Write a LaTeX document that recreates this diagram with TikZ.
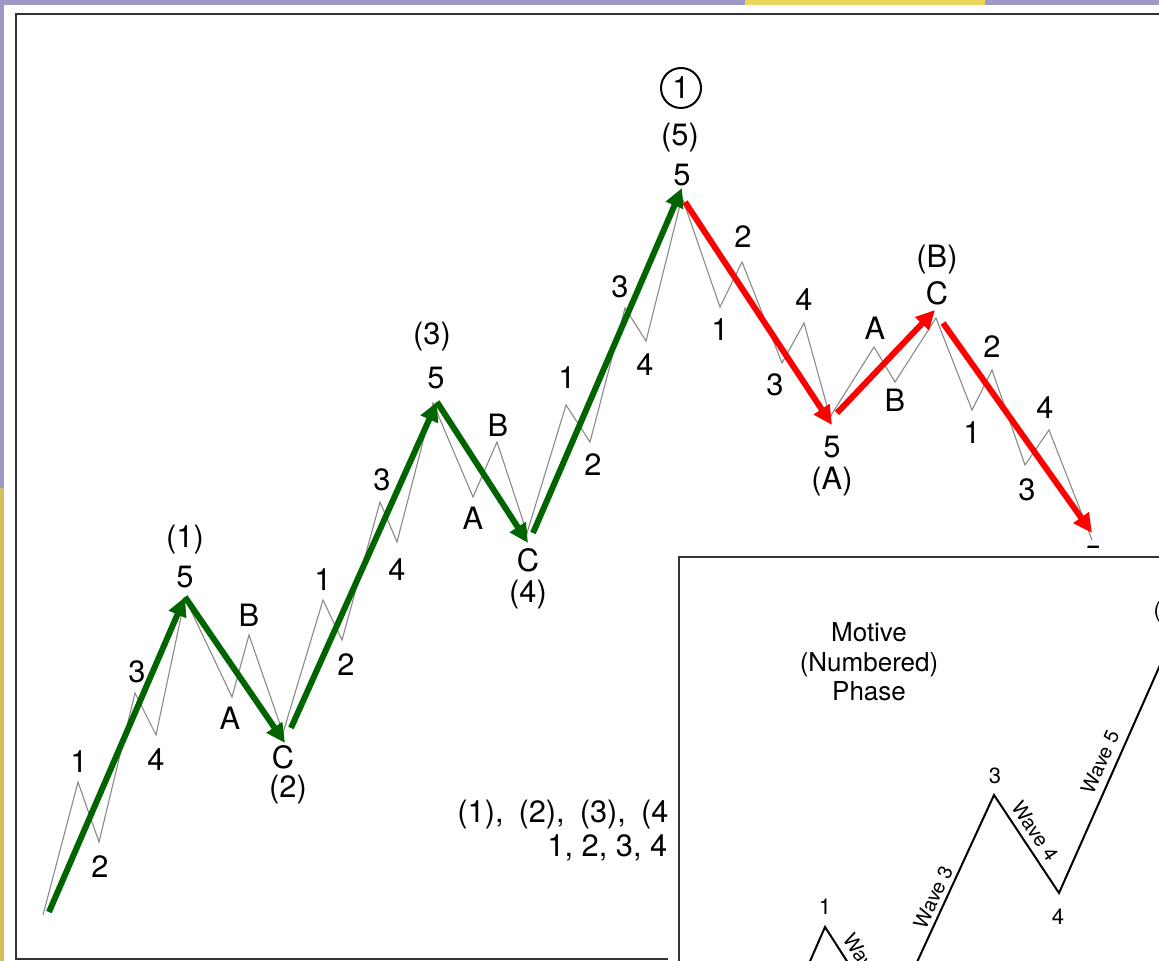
\documentclass[tikz,border=0pt]{standalone}
\usepackage{fontspec}
\setmainfont{TeX Gyre Heros}
\usetikzlibrary{arrows.meta}
\definecolor{bgpurple}{HTML}{9D98C4}
\definecolor{bgyellow}{HTML}{D8BD60}
\definecolor{bgyellowtop}{HTML}{EAD65C}
\definecolor{wgreen}{HTML}{006400}
\definecolor{wred}{HTML}{FF0000}
\definecolor{subgrey}{HTML}{8A8A8A}
\definecolor{frame}{HTML}{333333}
\begin{document}
\begin{tikzpicture}[x=0.5pt,y=-0.5pt,
  lbl/.style={font=\fontsize{15.4}{17}\selectfont, inner sep=0pt},
  insetlbl/.style={font=\fontsize{13}{14.75}\selectfont, inner sep=0pt},
  insetnum/.style={font=\fontsize{11}{13}\selectfont, inner sep=0pt},
  wavelbl/.style={font=\fontsize{10}{12}\selectfont, inner sep=0pt},
  subwave/.style={draw=subgrey, line width=0.55pt, line join=miter},
  upmove/.style={draw=wgreen, line width=3pt, -{Triangle[length=9.5pt,width=9pt]}},
  downmove/.style={draw=wred, line width=3pt, -{Triangle[length=9.5pt,width=9pt]}},
  panelframe/.style={draw=frame, line width=1pt},
  motive/.style={draw=black, line width=1pt, line join=miter}
]
\clip (0,0) rectangle (1159,961);
% background outside the panel
\fill[bgpurple] (0,0) rectangle (1159,961);
\fill[bgyellow] (0,488) rectangle (5,961);
\fill[bgyellowtop] (745,0) rectangle (985,6);
\fill[white] (4,5) rectangle (1170,970);
\draw[panelframe] (16,14) rectangle (1185,959);

% sub-waves (thin grey)
\draw[subwave] (43,915) -- (78,782) -- (99,842) -- (135,693) -- (156,735) -- (185,598)
  -- (232,697) -- (249,635) -- (283,733) -- (323,600) -- (342,640) -- (380,502)
  -- (397,542) -- (433,403) -- (473,497) -- (497,442) -- (527,533) -- (566,405)
  -- (590,442) -- (625,308) -- (646,341) -- (682,197) -- (720,307) -- (742,262)
  -- (782,363) -- (804,323) -- (830,417) -- (874,347) -- (895,382) -- (936,318)
  -- (972,410) -- (992,370) -- (1025,465) -- (1049,430) -- (1092,540);

% main wave points
\coordinate (W0) at (49,912);
\coordinate (W1) at (185,597);
\coordinate (W2) at (285,743);
\coordinate (W2s) at (291,728);
\coordinate (W3) at (437,402);
\coordinate (W4) at (528,543);
\coordinate (W4s) at (533,533);
\coordinate (W5) at (682,188);
\coordinate (W5s) at (685,202);
\coordinate (WA) at (832,425);
\coordinate (WAs) at (837,413);
\coordinate (WB) at (935,310);
\coordinate (WBs) at (943,323);
\coordinate (WC) at (1092,533);

\draw[upmove] (W0) -- (W1);
\draw[upmove] (W1) -- (W2);
\draw[upmove] (W2s) -- (W3);
\draw[upmove] (W3) -- (W4);
\draw[upmove] (W4s) -- (W5);
\draw[downmove] (W5s) -- (WA);
\draw[downmove] (WAs) -- (WB);
\draw[downmove] (WBs) -- (WC);

% labels
\node[lbl] (a1) at (79,762) {1};
\node[lbl] (a2) at (100,867) {2};
\node[lbl] (a3) at (137,672) {3};
\node[lbl] (a4) at (156,760) {4};
\node[lbl] (a5p) at (185,540) {(1)};
\node[lbl] (a5) at (185,577) {5};
\node[lbl] (aA) at (230,718) {A};
\node[lbl] (aB) at (249,615) {B};
\node[lbl] (aC) at (283,757) {C};
\node[lbl] (aCp) at (288,790) {(2)};
\node[lbl] (b1) at (323,580) {1};
\node[lbl] (b2) at (346,665) {2};
\node[lbl] (b3) at (382,480) {3};
\node[lbl] (b4) at (397,570) {4};
\node[lbl] (b5p) at (432,337) {(3)};
\node[lbl] (b5) at (436,378) {5};
\node[lbl] (bA) at (473,518) {A};
\node[lbl] (bB) at (498,425) {B};
\node[lbl] (bC) at (528,560) {C};
\node[lbl] (bCp) at (528,595) {(4)};
\node[lbl] (c1) at (567,378) {1};
\node[lbl] (c2) at (593,465) {2};
\node[lbl] (c3) at (620,287) {3};
\node[lbl] (c4) at (645,365) {4};
\node[lbl, draw, circle, line width=1pt, minimum size=20pt] (top) at (681,88) {1};
\node[lbl] (c5p) at (680,138) {(5)};
\node[lbl] (c5) at (682,175) {5};
\node[lbl] (d1) at (720,330) {1};
\node[lbl] (d2) at (743,237) {2};
\node[lbl] (d3) at (775,385) {3};
\node[lbl] (d4) at (804,300) {4};
\node[lbl] (d5) at (832,447) {5};
\node[lbl] (d5p) at (832,482) {(A)};
\node[lbl] (eA) at (875,328) {A};
\node[lbl] (eB) at (895,400) {B};
\node[lbl] (eCp) at (937,260) {(B)};
\node[lbl] (eC) at (937,293) {C};
\node[lbl] (f1) at (972,433) {1};
\node[lbl] (f2) at (992,347) {2};
\node[lbl] (f3) at (1027,490) {3};
\node[lbl] (f4) at (1045,408) {4};
\node[lbl] (f5) at (1093,557) {5};

\node[lbl, anchor=west] (seq1) at (457,815) {(1),\hskip7.5pt(2),\hskip7.5pt(3),\hskip7.5pt(4)};
\node[lbl, anchor=west] (seq2) at (547,848) {1, 2, 3, 4};

% inset
\fill[white] (668,548) rectangle (1175,975);
\draw[panelframe] (679,557) rectangle (1190,990);
\coordinate (M0) at (793,1000);
\coordinate (M1) at (825,927);
\coordinate (M2) at (888,1025);
\coordinate (M3) at (994,795);
\coordinate (M4) at (1059,893);
\coordinate (M5) at (1180,620);
\draw[motive] (M0) -- (M1) -- (M2) -- (M3) -- (M4) -- (M5);
\node[insetlbl, align=center] (phase) at (869,662) {Motive\\(Numbered)\\Phase};
\node[insetnum] (m1) at (825,907) {1};
\node[insetnum] (m3) at (995,776) {3};
\node[insetnum] (m4) at (1058,917) {4};
\node[insetnum] (m5p) at (1167,612) {(5)};
\node[wavelbl, rotate=-57] (w2) at (866,963) {Wave 2};
\node[wavelbl, rotate=65] (w3) at (933,897) {Wave 3};
\node[wavelbl, rotate=-56] (w4) at (1035,831) {Wave 4};
\node[wavelbl, rotate=66] (w5) at (1100,762) {Wave 5};
\end{tikzpicture}
\end{document}
